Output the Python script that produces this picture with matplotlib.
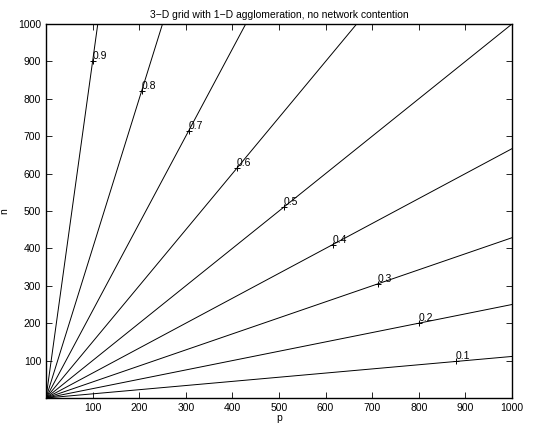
import numpy as np
import matplotlib
matplotlib.use("Agg")
import matplotlib.pyplot as plt

plt.rcParams['font.family'] = ['Liberation Sans', 'DejaVu Sans']

# Efficiency contour levels and where their labels sit (p coordinate)
levels = [0.1, 0.2, 0.3, 0.4, 0.5, 0.6, 0.7, 0.8, 0.9]
label_p = [880, 800, 712, 615, 510, 410, 306, 205, 100]
xticks = [100, 200, 300, 400, 500, 600, 700, 800, 900, 1000]
yticks = [100, 200, 300, 400, 500, 600, 700, 800, 900, 1000]

fig = plt.figure(figsize=(5.34, 4.25), dpi=100)
ax = fig.add_axes([46/534, 1 - 398/425, (512-46)/534, (398-24)/425])

p = np.linspace(0, 1000, 2001)
for E, lp in zip(levels, label_p):
    k = E / (1 - E)
    ax.plot(p, k * p, color='black', lw=0.7)
    ax.plot([lp], [k * lp], marker='+', color='black', ms=5, mew=0.7)
    ax.text(lp, k * lp, f"{E:.1f}", fontsize=7.5, ha='left', va='bottom')

ax.set_xlim(0, 1000)
ax.set_ylim(0, 1000)
ax.set_xticks(xticks)
ax.set_yticks(yticks)
ax.tick_params(direction='in', top=True, right=True, labelsize=7.5, length=4, width=0.6)
for s in ax.spines.values():
    s.set_linewidth(1.0)
ax.set_xlabel('p', fontsize=7.5, labelpad=0)
ax.set_ylabel('n', fontsize=7.5, labelpad=6)
ax.set_title('3\u2212D grid with 1\u2212D agglomeration, no network contention', fontsize=7.5, pad=4)

fig.savefig('out.png', dpi=100)
